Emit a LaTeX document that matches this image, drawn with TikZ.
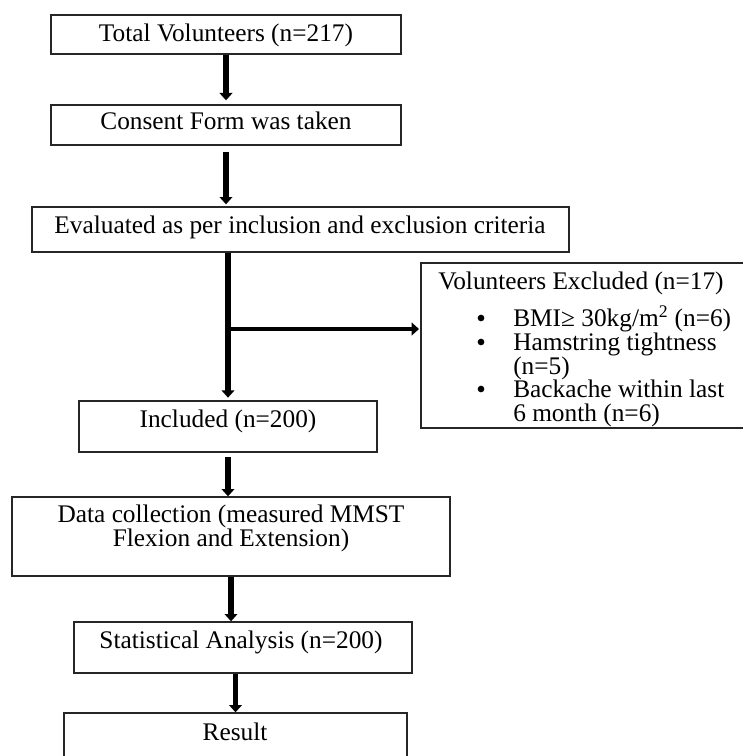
\documentclass[tikz,border=0pt]{standalone}
\usepackage{fontspec}
\setmainfont{Liberation Serif}
\usetikzlibrary{arrows.meta,fit}
\begin{document}
\begin{tikzpicture}[x=0.75pt,y=-0.75pt,
  box/.style={draw=black!85, line width=1pt, inner sep=0pt, rectangle},
  txt/.style={inner sep=0pt, font=\fontsize{19}{18}\selectfont, text=black},
  dot/.style={circle, fill=black, inner sep=0pt, minimum size=5pt},
  arr/.style={line width=4.2pt, -{Triangle[width=9.5pt,length=5.5pt]}},
  ]
\useasboundingbox (0,0) rectangle (742,756);
% boxes
\node[box, fit={(51,15) (401,54)}] (b1) {};
\node[box, fit={(51,105) (401,145)}] (b2) {};
\node[box, fit={(32,207) (569,252)}] (b3) {};
\node[box, fit={(421,263) (745,428)}] (exc) {};
\node[box, fit={(79,401) (377,452)}] (inc) {};
\node[box, fit={(12,497) (450,576)}] (data) {};
\node[box, fit={(74,622) (412,673)}] (stat) {};
\node[box, fit={(64,713) (407,770)}] (res) {};
% texts
\node[txt, anchor=base] (t1) at (226,42) {Total Volunteers (n=217)};
\node[txt, anchor=base] (t2) at (226,130) {Consent Form was taken};
\node[txt, anchor=base] (t3) at (300,233) {Evaluated as per inclusion and exclusion criteria};
\node[txt, anchor=base west] (te0) at (438,289) {Volunteers Excluded (n=17)};
\node[dot] (bu1) at (481,318) {};
\node[dot] (bu2) at (481,342) {};
\node[dot] (bu3) at (481,389) {};
\node[txt, anchor=base west] (te1) at (513,326) {BMI≥ 30kg/m\textsuperscript{2} (n=6)};
\node[txt, anchor=base west] (te2) at (513,350) {Hamstring tightness};
\node[txt, anchor=base west] (te3) at (513,374) {(n=5)};
\node[txt, anchor=base west] (te4) at (513,397) {Backache within last};
\node[txt, anchor=base west] (te5) at (513,421) {6 month (n=6)};
\node[txt, anchor=base] (t4) at (228,427) {Included (n=200)};
\node[txt, anchor=base] (t5a) at (231,522) {Data collection (measured MMST};
\node[txt, anchor=base] (t5b) at (231,546) {Flexion and Extension)};
\node[txt, anchor=base] (t6) at (241,648) {Statistical Analysis (n=200)};
\node[txt, anchor=base] (t7) at (235,740) {Result};
% connectors
\coordinate (br) at (228,329);
\draw[arr, shorten >=3pt] (b1.south) -- (b2.north);
\draw[arr, shorten <=4.5pt, shorten >=1.5pt] (b2.south) -- (b3.north -| b2.south);
\draw[arr, shorten >=2pt] (b3.south -| inc.north) -- (inc.north);
\draw[arr, line width=3.2pt, shorten >=1pt] (br) -- (br -| exc.west);
\draw[arr, shorten <=3pt] (inc.south) -- (inc.south |- data.north);
\draw[arr] (data.south) -- (data.south |- stat.north);
\draw[arr] (res.north |- stat.south) -- (res.north);
\end{tikzpicture}
\end{document}
